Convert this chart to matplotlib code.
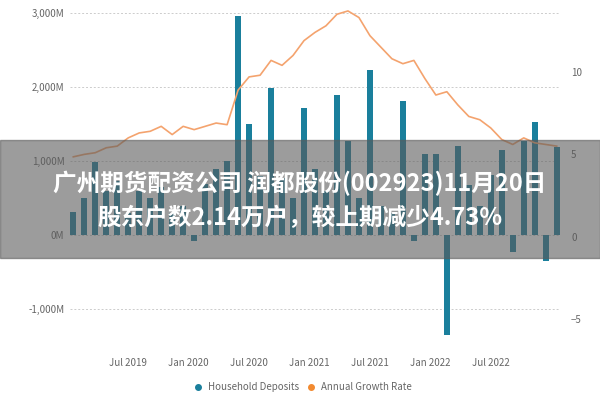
import numpy as np
import matplotlib.pyplot as plt
from matplotlib.patches import Rectangle
from matplotlib.lines import Line2D

plt.rcParams['font.family'] = ['Noto Sans CJK SC', 'DejaVu Sans']

# monthly household deposits (M) and annual growth rate (%)
deposits = [310, 500, 990, 600, 740, 300, 600, 500, 650, 300, 400, -70, 700, 900, 1000,
            2970, 1510, 800, 1990, 780, 500, 1720, 900, 600, 1900, 1280, 500, 2230, 400,
            300, 1820, -80, 1100, 1100, -1350, 1210, 680, 400, 810, 1150, -230, 1280,
            1530, -340, 1190]
growth = [4.85, 5.0, 5.1, 5.4, 5.5, 6.0, 6.3, 6.4, 6.7, 6.2, 6.7, 6.5, 6.7, 6.9, 6.8,
          8.9, 9.7, 9.8, 10.7, 10.4, 11.0, 11.9, 12.4, 12.8, 13.5, 13.7, 13.3, 12.2, 11.5,
          10.8, 10.5, 10.7, 9.6, 8.6, 8.8, 8.0, 7.3, 7.1, 6.6, 5.9, 5.6, 6.0, 5.7, 5.6, 5.5]
tick_labels = ['Jul 2019', 'Jan 2020', 'Jul 2020', 'Jan 2021', 'Jul 2021', 'Jan 2022', 'Jul 2022']
tick_pos = [5, 10.5, 16, 21.5, 27, 32.5, 38]

blue = '#1a7f9c'
orange = '#f4a36e'
grey = '#666666'

fig = plt.figure(figsize=(6, 4), dpi=100)
ax = fig.add_axes([70/600, 1-339/400, 490/600, 333/400])
x = np.arange(len(deposits))
ax.bar(x, deposits, width=0.55, color=blue, zorder=2)
ax.set_ylim(-1400, 3100)
ax.set_xlim(-0.3, len(deposits) - 0.7)
ax.set_yticks([-1000, 0, 1000, 2000, 3000])
ax.set_yticklabels(['-1,000M', '0M', '1,000M', '2,000M', '3,000M'])
ax.grid(axis='y', color='#cccccc', linestyle=(0, (2, 2)), lw=0.7, zorder=0)
ax.set_xticks(tick_pos)
ax.set_xticklabels(tick_labels)
for s in ax.spines.values():
    s.set_visible(False)
ax.tick_params(length=0, labelsize=7, labelcolor=grey, pad=4)
ax.tick_params(axis='x', pad=14)

ax2 = ax.twinx()
ax2.plot(x, growth, color=orange, lw=1.2, zorder=3)
ax2.set_ylim(-6.2, 14.0)
ax2.set_yticks([-5, 0, 5, 10])
for s in ax2.spines.values():
    s.set_visible(False)
ax2.tick_params(length=0, labelsize=7, labelcolor=grey, pad=8)

handles = [Line2D([], [], marker='o', ls='', color=blue, ms=4),
           Line2D([], [], marker='o', ls='', color='#f28a30', ms=4)]
fig.legend(handles, ['Household Deposits', 'Annual Growth Rate'], loc='center',
           bbox_to_anchor=(0.5, 1-387/400), ncol=2, frameon=False, fontsize=7,
           labelcolor=grey, handletextpad=0.0, columnspacing=0.2)

# grey caption band
fig.patches.append(Rectangle((0, 1-258/400), 1, 118/400, transform=fig.transFigure,
                             color='#5a5a5a', alpha=0.6, zorder=10))
fig.text(0.5, 1-183/400, '广州期货配资公司 润都股份(002923)11月20日', ha='center', va='center',
         color='white', fontsize=17, fontweight='bold', zorder=11)
fig.text(0.5, 1-218/400, '股东户数2.14万户，较上期减少4.73%', ha='center', va='center',
         color='white', fontsize=17, fontweight='bold', zorder=11)

fig.savefig('out.png', dpi=100)
